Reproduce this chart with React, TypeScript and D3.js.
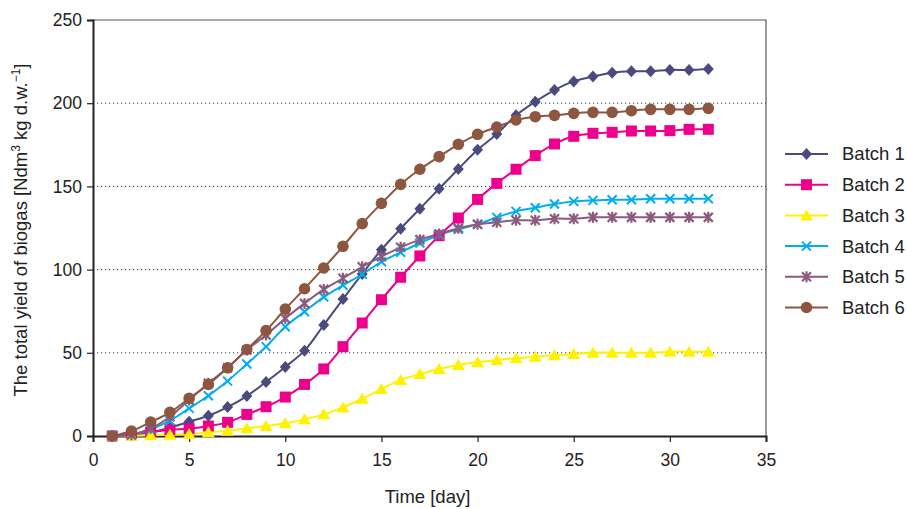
import { useEffect, useRef } from "react";
import * as d3 from "d3";

// days of measurement
const days = d3.range(1, 33);

// cumulative biogas yield per batch
const batch1 = [0, 0.6, 2.2, 5, 8.6, 12.2, 17.4, 24, 32.5, 41.5, 51.3, 66.7, 82.3, 97.4, 112, 124.6,
    136.6, 148.6, 160.5, 172, 181.5, 192.7, 200.9, 207.9, 213.1, 216, 218.3, 219.2, 219.2, 220, 220, 220.6];
const batch2 = [0, 0.8, 2.4, 3.8, 4.4, 6, 8.2, 13, 17.6, 23.4, 31, 40.3, 53.7, 67.9, 81.9, 95.4,
    108.2, 120.4, 131, 142.2, 151.8, 160.3, 168.5, 175.5, 180.1, 181.9, 182.5, 183.3, 183.3, 183.5, 184.3, 184.3];
const batch3 = [0, 0.1, 0.4, 0.8, 1.2, 2.2, 3.2, 4.6, 6, 7.6, 10, 13, 17.2, 22.4, 28.2, 33.7,
    37.3, 40.3, 42.7, 44.3, 45.7, 46.7, 47.7, 48.5, 49.3, 50.1, 50.1, 50.1, 50.1, 50.7, 50.7, 50.7];
const batch4 = [0, 0.6, 4, 9.2, 16.6, 24.2, 33, 43.3, 53.7, 65.7, 74.7, 83.5, 90.6, 97.2, 104.7, 110.4,
    116, 120.8, 124.2, 127.2, 131.4, 135, 137.2, 139.4, 141, 141.6, 142, 142, 142.6, 142.6, 142.6, 142.6];
const batch5 = [0, 0.8, 4.6, 11.6, 21.6, 31.7, 41, 51.7, 60.7, 70.7, 79.7, 88.1, 94.8, 101.7, 107.8, 113.4,
    118, 121.4, 124.8, 127.2, 128.4, 129.6, 129.6, 130.6, 130.6, 131.4, 131.4, 131.4, 131.4, 131.4, 131.4, 131.4];
const batch6 = [0, 3, 8.4, 14.2, 22.6, 31, 41, 52, 63.3, 76.3, 88.5, 101, 114, 127.6, 139.8, 151.2,
    160.3, 167.9, 175.3, 181.3, 185.7, 189.9, 191.9, 192.7, 193.9, 194.5, 194.5, 195.5, 196.3, 196.3, 196.3, 196.9];

const seriesNames = ["Batch 1", "Batch 2", "Batch 3", "Batch 4", "Batch 5", "Batch 6"];
const seriesValues = [batch1, batch2, batch3, batch4, batch5, batch6];
const colors = ["#4a4a7c", "#ec008c", "#fff200", "#00aeef", "#8c5a7c", "#8c5640"];
const symbols = ["diamond", "square", "triangle", "cross", "asterisk", "circle"];

const xTicks = [0, 5, 10, 15, 20, 25, 30, 35];
const yTicks = [0, 50, 100, 150, 200, 250];
const gridTicks = [50, 100, 150, 200];

const width = 907;
const height = 509;
const plot = { left: 93, right: 766, top: 20, bottom: 436 };

// draw one marker of a given kind centred on (0,0)
const drawMarker = (g, kind, color) => {
    if (kind === "diamond") {
        g.append("path").attr("d", "M0,-6L5.5,0L0,6L-5.5,0Z").attr("fill", color);
    } else if (kind === "square") {
        g.append("rect").attr("x", -5.5).attr("y", -5.5).attr("width", 11).attr("height", 11).attr("fill", color);
    } else if (kind === "triangle") {
        g.append("path").attr("d", "M0,-6L6.5,5L-6.5,5Z").attr("fill", color);
    } else if (kind === "circle") {
        g.append("circle").attr("r", 5.8).attr("fill", color);
    } else if (kind === "cross") {
        g.append("path").attr("d", "M-4.5,-4.5L4.5,4.5M-4.5,4.5L4.5,-4.5")
            .attr("stroke", color).attr("stroke-width", 2).attr("fill", "none");
    } else if (kind === "asterisk") {
        g.append("path").attr("d", "M-4.5,-4.5L4.5,4.5M-4.5,4.5L4.5,-4.5M0,-5.5L0,5.5")
            .attr("stroke", color).attr("stroke-width", 2.2).attr("fill", "none");
    }
};

const drawChart = (node) => {
    const svg = d3.select(node);
    svg.selectAll("*").remove();

    const x = d3.scaleLinear().domain([0, 35]).range([plot.left, plot.right]);
    const y = d3.scaleLinear().domain([0, 250]).range([plot.bottom, plot.top]);

    const font = "'Liberation Sans', Arial, sans-serif";

    // dotted gridlines
    svg.append("g")
        .selectAll("line")
        .data(gridTicks)
        .join("line")
            .attr("x1", plot.left)
            .attr("x2", plot.right)
            .attr("y1", d => y(d))
            .attr("y2", d => y(d))
            .attr("stroke", "#333")
            .attr("stroke-width", 1)
            .attr("stroke-dasharray", "1.2,2.8");

    // frame: top and right in grey
    svg.append("path")
        .attr("d", `M${plot.left},${plot.top}H${plot.right}V${plot.bottom}`)
        .attr("fill", "none")
        .attr("stroke", "#555")
        .attr("stroke-width", 1.2);

    // x axis
    const xAxis = svg.append("g")
        .attr("transform", `translate(0,${plot.bottom})`)
        .call(d3.axisBottom(x).tickValues(xTicks).tickSize(6).tickPadding(12).tickFormat(d3.format("d")));
    xAxis.select(".domain").attr("stroke", "#222").attr("stroke-width", 2);
    xAxis.selectAll(".tick line").attr("stroke", "#222").attr("stroke-width", 1.2);
    xAxis.selectAll("text").attr("font-family", font).attr("font-size", 17.5).attr("fill", "#222");

    // y axis
    const yAxis = svg.append("g")
        .attr("transform", `translate(${plot.left},0)`)
        .call(d3.axisLeft(y).tickValues(yTicks).tickSize(6).tickPadding(5).tickFormat(d3.format("d")));
    yAxis.select(".domain").attr("stroke", "#222").attr("stroke-width", 2);
    yAxis.selectAll(".tick line").attr("stroke", "#222").attr("stroke-width", 1.2);
    yAxis.selectAll("text").attr("font-family", font).attr("font-size", 17.5).attr("fill", "#222");

    // axis titles
    svg.append("text")
        .attr("x", (plot.left + plot.right) / 2 - 2)
        .attr("y", 503)
        .attr("text-anchor", "middle")
        .attr("font-family", font)
        .attr("font-size", 18.5)
        .attr("fill", "#222")
        .text("Time [day]");

    const yTitle = svg.append("text")
        .attr("transform", "translate(27,230) rotate(-90)")
        .attr("text-anchor", "middle")
        .attr("font-family", font)
        .attr("font-size", 18.5)
        .attr("fill", "#222");
    yTitle.append("tspan").text("The total yield of biogas [Ndm");
    yTitle.append("tspan").attr("dy", -7).attr("font-size", 12).text("3");
    yTitle.append("tspan").attr("dy", 7).text(" kg d.w.");
    yTitle.append("tspan").attr("dy", -7).attr("font-size", 12).text("\u22121");
    yTitle.append("tspan").attr("dy", 7).text("]");

    // series lines
    const line = d3.line()
        .x((d, i) => x(days[i]))
        .y(d => y(d))
        .curve(d3.curveCatmullRom.alpha(0.5));

    seriesValues.forEach((vals, s) => {
        svg.append("path")
            .datum(vals)
            .attr("d", line)
            .attr("fill", "none")
            .attr("stroke", colors[s])
            .attr("stroke-width", 2);
    });

    // markers
    seriesValues.forEach((vals, s) => {
        svg.append("g")
            .selectAll("g")
            .data(vals)
            .join("g")
                .attr("transform", (d, i) => `translate(${x(days[i])},${y(d)})`)
                .each(function () { drawMarker(d3.select(this), symbols[s], colors[s]); });
    });

    // legend
    const legend = svg.append("g")
        .selectAll("g")
        .data(seriesNames)
        .join("g")
            .attr("transform", (d, i) => `translate(785,${154 + i * 30.7})`);
    legend.append("line")
        .attr("x1", 0)
        .attr("x2", 43)
        .attr("stroke", (d, i) => colors[i])
        .attr("stroke-width", 2);
    legend.each(function (d, i) {
        const g = d3.select(this).append("g").attr("transform", "translate(21.5,0)");
        drawMarker(g, symbols[i], colors[i]);
    });
    legend.append("text")
        .attr("x", 57)
        .attr("dy", "0.35em")
        .attr("font-family", font)
        .attr("font-size", 18.5)
        .attr("fill", "#222")
        .text(d => d);
};

export default function App() {
    const ref = useRef(null);

    useEffect(() => {
        drawChart(ref.current);
    }, []);

    return (
        <div style={{ position: "absolute", left: 0, top: 0, background: "#fff" }}>
            <svg ref={ref} width={width} height={height} style={{ display: "block" }} />
        </div>
    );
}
